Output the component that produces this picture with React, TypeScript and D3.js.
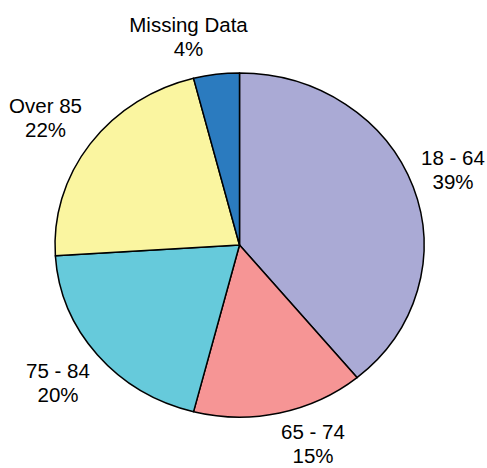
import React from "react";
import * as d3 from "d3";

const categories = ["18 - 64", "65 - 74", "75 - 84", "Over 85", "Missing Data"];
const values = [39, 15, 20, 22, 4];
const percentLabels = ["39%", "15%", "20%", "22%", "4%"];
const colors = ["#aaaad5", "#f69595", "#66cadb", "#faf5a0", "#2b7bbf"];

const W = 487;
const H = 468;
const CX = 239.5;
const CY = 245;
const RX = 184.5;
const RY = 172;

// label anchor (center x, first-line baseline)
const labelPos: [number, number][] = [
  [453, 165],
  [313, 439],
  [58, 378],
  [45.5, 113],
  [188.5, 32],
];

export default function App() {
  const pie = d3.pie<number>().sort(null).value((d) => d);
  const arcs = pie(values);
  const arc = d3.arc<d3.PieArcDatum<number>>().innerRadius(0).outerRadius(1);
  return (
    <svg width={W} height={H} style={{ position: "absolute", left: 0, top: 0 }}>
      <rect width={W} height={H} fill="#fff" />
      <g transform={`translate(${CX},${CY}) scale(${RX},${RY})`}>
        {arcs.map((a, i) => (
          <path
            key={i}
            d={arc(a) || ""}
            fill={colors[i]}
            stroke="#000"
            strokeWidth={1.5}
            strokeLinejoin="round"
            vectorEffect="non-scaling-stroke"
          />
        ))}
      </g>
      {categories.map((c, i) => (
        <text
          key={c}
          x={labelPos[i][0]}
          y={labelPos[i][1]}
          textAnchor="middle"
          fontFamily="Liberation Sans, Arial, sans-serif"
          fontSize={20.5}
          fill="#000"
        >
          <tspan x={labelPos[i][0]}>{c}</tspan>
          <tspan x={labelPos[i][0]} dy={24}>
            {percentLabels[i]}
          </tspan>
        </text>
      ))}
    </svg>
  );
}
